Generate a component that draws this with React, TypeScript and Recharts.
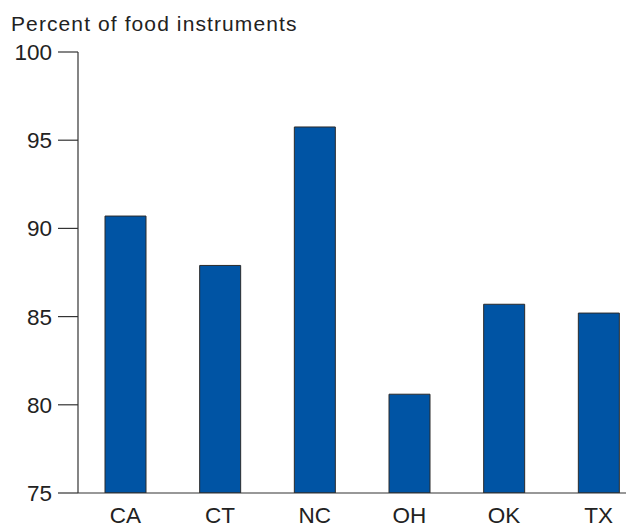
import { BarChart, Bar, XAxis, YAxis } from "recharts";

// Estados e percentuais
const states = ["CA", "CT", "NC", "OH", "OK", "TX"];
const percents = [90.7, 87.9, 95.75, 80.6, 85.7, 85.2];
const yTicks = [75, 80, 85, 90, 95, 100];

const data = states.map((state, i) => ({ state, value: percents[i] }));

const font = '"Liberation Sans", Arial, Helvetica, sans-serif';

export default function App() {
  return (
    <div style={{ position: "relative", width: 626, height: 519, overflow: "hidden", fontFamily: font }}>
      <div
        style={{
          position: "absolute",
          left: 3,
          top: 5,
          fontSize: 21,
          letterSpacing: 1.1,
          lineHeight: "21px",
          color: "#222",
          whiteSpace: "nowrap",
        }}
      >
        Percent of food instruments
      </div>
      <BarChart
        width={638}
        height={519}
        data={data}
        margin={{ top: 44, right: 0, left: 0, bottom: 4 }}
      >
        <XAxis
          dataKey="state"
          axisLine={{ stroke: "#333", strokeWidth: 1.2 }}
          tickLine={false}
          tickSize={0}
          tickMargin={14}
          height={30}
          interval={0}
          tick={{ fill: "#222", fontSize: 22.5, fontFamily: font }}
        />
        <YAxis
          type="number"
          domain={[75, 100]}
          ticks={yTicks}
          interval={0}
          width={70}
          tickSize={20}
          tickMargin={6}
          axisLine={{ stroke: "#333", strokeWidth: 1.2 }}
          tickLine={{ stroke: "#333", strokeWidth: 1.2 }}
          tick={{ fill: "#222", fontSize: 22.5, fontFamily: font }}
          allowDataOverflow
        />
        <Bar
          dataKey="value"
          fill="#0054a4"
          stroke="#2b2b2b"
          strokeWidth={1}
          barSize={41}
          isAnimationActive={false}
        />
      </BarChart>
    </div>
  );
}
